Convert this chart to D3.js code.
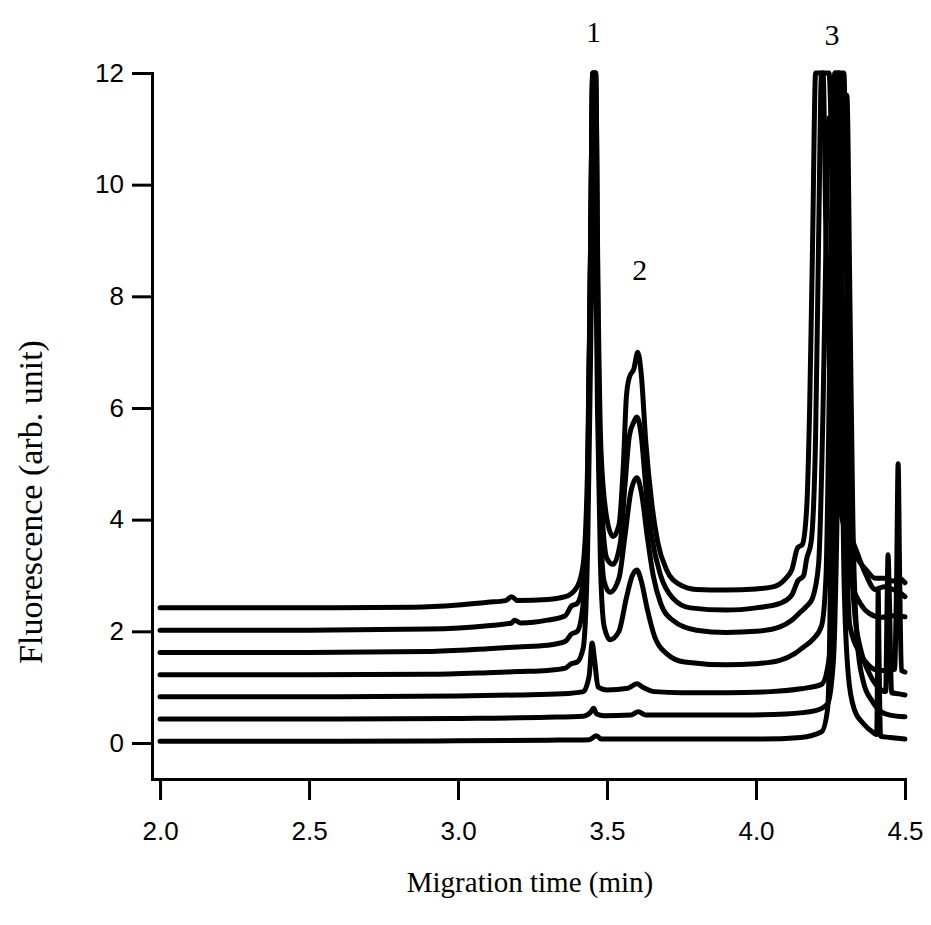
<!DOCTYPE html>
<html>
<head>
<meta charset="utf-8">
<script src="https://cdnjs.cloudflare.com/ajax/libs/d3/7.8.5/d3.min.js"></script>
<style>
  body { margin: 0; background: #fff; }
  svg { display: block; }
  .axis path, .axis line { stroke: #000; stroke-width: 3; }
  .axis text { font-family: "Liberation Sans", Arial, sans-serif; font-size: 26px; fill: #000; }
  .title { font-family: "Liberation Serif", "Times New Roman", serif; font-size: 29px; fill: #000; }
  .trace { fill: none; stroke: #000; stroke-width: 5; stroke-linejoin: round; stroke-linecap: round; }
</style>
</head>
<body>
<div id="chart"></div>
<script>
// electropherograms, [time (min), fluorescence], bottom run first
var run1 = [[2.0,0.03],[2.6,0.03],[3.0,0.04],[3.3,0.05],[3.44,0.06],[3.465,0.13],[3.48,0.07],[3.6,0.07],[3.8,0.07],[4.0,0.07],
  [4.15,0.1],[4.22,0.2],[4.24,0.6],[4.25,3],[4.258,8],[4.265,12],[4.275,12],[4.285,7],[4.295,3],[4.31,1.2],[4.33,0.6],
  [4.36,0.35],[4.39,0.2],[4.405,0.15],[4.408,1.5],[4.41,2.74],[4.413,1.5],[4.418,0.12],[4.45,0.1],[4.5,0.07]];
var run2 = [[2.0,0.43],[2.6,0.43],[3.0,0.44],[3.3,0.46],[3.42,0.48],[3.445,0.55],[3.455,0.62],[3.465,0.52],[3.49,0.49],
  [3.58,0.5],[3.605,0.56],[3.63,0.5],[3.75,0.5],[3.95,0.5],[4.1,0.52],[4.2,0.58],[4.24,0.7],[4.26,1.5],[4.275,5],[4.285,9],
  [4.295,11.6],[4.305,11.6],[4.315,8],[4.325,4],[4.34,1.8],[4.36,1.1],[4.39,0.75],[4.42,0.56],[4.45,0.5],[4.5,0.47]];
var run3 = [[2.0,0.83],[2.6,0.83],[3.0,0.84],[3.2,0.86],[3.35,0.88],[3.42,0.92],[3.44,1.2],[3.45,1.79],[3.458,1.5],[3.47,1.0],
  [3.5,0.95],[3.57,0.98],[3.6,1.06],[3.62,1.0],[3.66,0.92],[3.75,0.9],[3.9,0.9],[4.05,0.92],[4.15,0.97],[4.22,1.05],[4.245,1.5],
  [4.26,4],[4.27,9],[4.28,12],[4.295,12],[4.305,8],[4.315,4],[4.33,2.4],[4.35,1.7],[4.38,1.25],[4.41,1.0],[4.435,0.92],
  [4.44,2.5],[4.443,3.37],[4.448,2.5],[4.455,0.9],[4.48,0.88],[4.5,0.86]];
var run4 = [[2.0,1.22],[2.5,1.22],[2.9,1.23],[3.1,1.26],[3.2,1.28],[3.3,1.3],[3.36,1.34],[3.38,1.42],[3.4,1.45],[3.42,1.7],
  [3.435,3.5],[3.445,7],[3.453,9.9],[3.46,9.5],[3.468,6],[3.478,3.2],[3.49,2.1],[3.51,1.85],[3.54,2.0],[3.565,2.6],[3.585,3.0],
  [3.6,3.1],[3.615,2.9],[3.635,2.4],[3.66,1.9],[3.7,1.6],[3.76,1.45],[3.9,1.4],[4.0,1.42],[4.08,1.48],[4.13,1.6],[4.16,1.72],
  [4.19,1.85],[4.22,2.1],[4.235,3],[4.245,6],[4.255,10],[4.265,12],[4.28,12],[4.29,8],[4.3,4.5],[4.315,2.1],[4.35,1.6],
  [4.38,1.38],[4.41,1.3],[4.44,1.3],[4.465,1.32],[4.472,3],[4.477,5.0],[4.482,3],[4.488,1.3],[4.5,1.27]];
var run5 = [[2.0,1.62],[2.5,1.62],[2.9,1.64],[3.1,1.69],[3.2,1.72],[3.3,1.75],[3.36,1.82],[3.38,1.95],[3.4,2.0],[3.42,2.5],
  [3.435,4.5],[3.445,9],[3.452,12],[3.46,12],[3.468,7],[3.478,4.0],[3.49,2.9],[3.51,2.7],[3.54,2.95],[3.56,3.7],[3.58,4.5],
  [3.6,4.75],[3.615,4.5],[3.635,3.7],[3.655,3.0],[3.68,2.5],[3.72,2.2],[3.8,2.02],[3.9,1.98],[4.0,2.0],[4.08,2.08],[4.12,2.2],
  [4.15,2.35],[4.17,2.45],[4.19,2.6],[4.21,3.2],[4.225,6],[4.235,9],[4.245,11.2],[4.255,11.2],[4.265,8],[4.28,5],[4.3,3.6],
  [4.32,2.9],[4.35,2.5],[4.38,2.32],[4.42,2.25],[4.46,2.28],[4.5,2.26]];
var run6 = [[2.0,2.02],[2.5,2.02],[2.9,2.04],[3.1,2.1],[3.18,2.15],[3.19,2.2],[3.21,2.15],[3.3,2.2],[3.36,2.28],[3.38,2.45],
  [3.4,2.5],[3.42,2.9],[3.435,4.5],[3.445,9],[3.452,12],[3.462,12],[3.47,7.5],[3.48,4.5],[3.5,3.3],[3.52,3.2],[3.545,3.6],
  [3.56,4.6],[3.575,5.5],[3.59,5.75],[3.6,5.84],[3.615,5.5],[3.63,4.6],[3.65,3.7],[3.68,3.0],[3.72,2.6],[3.78,2.42],[3.9,2.38],
  [4.0,2.42],[4.08,2.5],[4.12,2.65],[4.14,2.9],[4.16,3.0],[4.17,3.3],[4.185,3.6],[4.2,5.5],[4.21,9],[4.22,12],[4.245,12],
  [4.26,9],[4.275,6],[4.29,4.6],[4.31,3.9],[4.34,3.4],[4.37,3.0],[4.4,2.75],[4.43,2.8],[4.46,2.75],[4.48,2.7],[4.5,2.62]];
var run7 = [[2.0,2.42],[2.5,2.42],[2.85,2.43],[3.0,2.47],[3.1,2.52],[3.16,2.55],[3.18,2.62],[3.2,2.55],[3.3,2.57],[3.36,2.62],
  [3.4,2.8],[3.42,3.2],[3.435,5.0],[3.445,9],[3.452,12],[3.462,12],[3.47,8],[3.48,5.2],[3.5,4.0],[3.52,3.7],[3.54,3.9],
  [3.555,5.0],[3.565,6.2],[3.575,6.55],[3.59,6.7],[3.603,7.0],[3.615,6.6],[3.63,5.4],[3.65,4.3],[3.67,3.6],[3.7,3.1],
  [3.74,2.85],[3.8,2.75],[3.9,2.74],[4.0,2.76],[4.06,2.8],[4.1,2.95],[4.12,3.1],[4.14,3.5],[4.155,3.55],[4.17,4.2],[4.18,6],
  [4.19,9],[4.2,12],[4.225,12],[4.235,9],[4.25,6.2],[4.27,4.6],[4.29,4.0],[4.31,3.6],[4.34,3.3],[4.37,3.1],[4.4,2.95],
  [4.43,2.95],[4.46,2.9],[4.48,2.95],[4.5,2.87]];

var runs = [run1, run2, run3, run4, run5, run6, run7];
var xTicks = [2.0, 2.5, 3.0, 3.5, 4.0, 4.5];
var yTicks = [0, 2, 4, 6, 8, 10, 12];
var peakLabels = [{t: 3.455, v: 12.55, text: '1'}, {t: 3.61, v: 8.3, text: '2'}, {t: 4.255, v: 12.5, text: '3'}];

var width = 931, height = 925;

var svg = d3.select('#chart').append('svg')
  .attr('width', width)
  .attr('height', height);

var x = d3.scaleLinear().domain([1.973, 4.5]).range([152, 905]);
var y = d3.scaleLinear().domain([-0.645, 12]).range([779, 73]);

var line = d3.line()
  .x(function(d) { return x(d[0]); })
  .y(function(d) { return y(d[1]); })
  .curve(d3.curveMonotoneX);

svg.append('g').selectAll('path').data(runs)
  .enter().append('path')
  .attr('class', 'trace')
  .attr('d', line);

svg.append('g')
  .attr('class', 'axis')
  .attr('transform', 'translate(0,779)')
  .call(d3.axisBottom(x).tickValues(xTicks).tickFormat(d3.format('.1f'))
    .tickSize(21).tickSizeOuter(0).tickPadding(22));

svg.append('g')
  .attr('class', 'axis')
  .attr('transform', 'translate(152,0)')
  .call(d3.axisLeft(y).tickValues(yTicks).tickFormat(d3.format('d'))
    .tickSize(20).tickSizeOuter(0).tickPadding(8));

svg.selectAll('.axis path').attr('stroke-linecap', 'square');

svg.append('text')
  .attr('class', 'title')
  .attr('x', 530)
  .attr('y', 892)
  .attr('text-anchor', 'middle')
  .text('Migration time (min)');

svg.append('text')
  .attr('class', 'title')
  .attr('transform', 'translate(42,502) rotate(-90)')
  .attr('text-anchor', 'middle')
  .style('font-size', '34px')
  .text('Fluorescence (arb. unit)');

svg.append('g').selectAll('text').data(peakLabels)
  .enter().append('text')
  .attr('class', 'title')
  .attr('x', function(d) { return x(d.t); })
  .attr('y', function(d) { return y(d.v); })
  .attr('text-anchor', 'middle')
  .style('font-size', '30px')
  .text(function(d) { return d.text; });
</script>
</body>
</html>
